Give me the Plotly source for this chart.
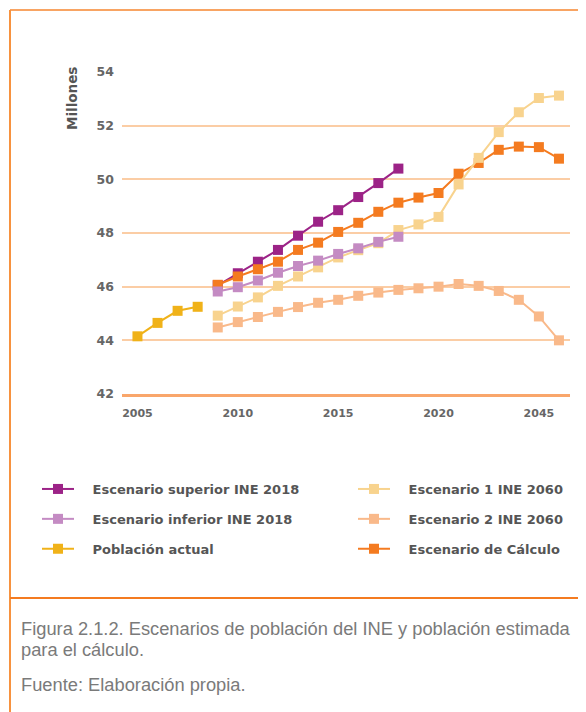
import plotly.graph_objects as go

# ---------------- data ----------------
years_actual = [2005, 2006, 2007, 2008]
pob_actual = [44.15, 44.65, 45.1, 45.25]

years_ine2018 = list(range(2009, 2019))
esc_superior = [46.05, 46.5, 46.93, 47.37, 47.9, 48.42, 48.85, 49.34, 49.86, 50.4]
esc_inferior = [45.82, 45.98, 46.23, 46.52, 46.77, 46.97, 47.22, 47.43, 47.67, 47.86]

years_2060 = list(range(2009, 2027))
esc1_2060 = [44.92, 45.26, 45.6, 46.03, 46.38, 46.72, 47.09, 47.36, 47.62, 48.11,
             48.32, 48.6, 49.81, 50.8, 51.76, 52.5, 53.03, 53.12]
esc2_2060 = [44.48, 44.68, 44.87, 45.06, 45.24, 45.4, 45.51, 45.66, 45.78, 45.88,
             45.94, 46.0, 46.1, 46.03, 45.84, 45.51, 44.89, 44.0]
esc_calculo = [46.07, 46.38, 46.65, 46.93, 47.37, 47.64, 48.04, 48.38, 48.79, 49.13,
               49.32, 49.49, 50.21, 50.61, 51.1, 51.22, 51.2, 50.77]

x_tickvals = [2005, 2010, 2015, 2020, 2025]
x_ticktext = ["2005", "2010", "2015", "2020", "2045"]
y_tickvals = [42, 44, 46, 48, 50, 52, 54]

names = {
    "sup": "Escenario superior INE 2018",
    "inf": "Escenario inferior INE 2018",
    "act": "Población actual",
    "e1": "Escenario 1 INE 2060",
    "e2": "Escenario 2 INE 2060",
    "calc": "Escenario de Cálculo",
}
colors = {
    "sup": "#9C2387",
    "inf": "#C48BC3",
    "act": "#F0B219",
    "e1": "#F8D38E",
    "e2": "#F9B98A",
    "calc": "#F47B20",
}

# ---------------- layout geometry ----------------
# page coordinates; the html body adds an 8px margin around the figure
OFF = 8
W, H = 586 - OFF, 712 - OFF
L, R, T, B = 122 - OFF, 570 - OFF, 72 - OFF, 394 - OFF


def px(x):
    return (x - OFF - L) / (R - L)


def py(y):
    return (B - (y - OFF)) / (B - T)


fig = go.Figure()
PAD = "\u00a0\u00a0\u00a0"


def add(key, xs, ys, legend, rank):
    fig.add_trace(go.Scatter(
        x=xs, y=ys, mode="lines+markers", name=PAD + names[key],
        line=dict(color=colors[key], width=2),
        marker=dict(symbol="square", size=10, color=colors[key]),
        legend=legend, legendgroup=key, legendrank=rank,
        hoverinfo="skip",
    ))


# draw order (bottom -> top)
add("sup", years_ine2018, esc_superior, "legend", 1)
add("calc", years_2060, esc_calculo, "legend2", 3)
add("e2", years_2060, esc2_2060, "legend2", 2)
add("e1", years_2060, esc1_2060, "legend2", 1)
add("inf", years_ine2018, esc_inferior, "legend", 2)
add("act", years_actual, pob_actual, "legend", 3)

BOLD = "DejaVu Sans, sans-serif"
legend_font = dict(family=BOLD, size=13, color="#555555", weight="bold")

fig.update_layout(
    width=W, height=H,
    margin=dict(l=L, r=W - R, t=T, b=H - B, autoexpand=False),
    paper_bgcolor="white", plot_bgcolor="white",
    showlegend=True,
    legend=dict(x=px(37), y=py(474), xanchor="left", yanchor="top",
                orientation="v", tracegroupgap=10, font=legend_font,
                bgcolor="rgba(0,0,0,0)", itemwidth=32),
    legend2=dict(x=px(353), y=py(474), xanchor="left", yanchor="top",
                 orientation="v", tracegroupgap=10, font=legend_font,
                 bgcolor="rgba(0,0,0,0)", itemwidth=32),
    xaxis=dict(range=[2004.23, 2026.55], tickvals=x_tickvals, ticktext=x_ticktext,
               showgrid=False, zeroline=False, showline=True,
               linecolor="#F9A66B", linewidth=3, ticks="",
               ticklabelstandoff=7,
               tickfont=dict(family=BOLD, size=11, color="#666666", weight="bold")),
    yaxis=dict(range=[42, 54], tickvals=y_tickvals, showgrid=True,
               gridcolor="#FBCDA5", gridwidth=1.5, zeroline=False, showline=False,
               ticks="", ticklabelstandoff=7,
               tickfont=dict(family=BOLD, size=12.5, color="#666666", weight="bold")),
    font=dict(family=BOLD),
)

# frame lines
fig.add_shape(type="line", xref="paper", yref="paper",
              x0=px(10), x1=px(600), y0=py(10), y1=py(10),
              line=dict(color="#F8A463", width=2))
fig.add_shape(type="line", xref="paper", yref="paper",
              x0=px(10), x1=px(10), y0=py(10), y1=py(720),
              line=dict(color="#F7923F", width=2))
fig.add_shape(type="line", xref="paper", yref="paper",
              x0=px(10), x1=px(600), y0=py(598), y1=py(598),
              line=dict(color="#F47B20", width=2))

# y axis title
fig.add_annotation(text="Millones", xref="paper", yref="paper",
                   x=px(72), y=py(99), textangle=-90, showarrow=False,
                   xanchor="center", yanchor="middle",
                   font=dict(family=BOLD, size=13.5, color="#555555", weight="bold"))

cap_font = dict(family="Liberation Sans, Arial, sans-serif", size=18.3, color="#7A7A7A")
for txt, yy in [("Figura 2.1.2. Escenarios de población del INE y población estimada", 628),
                ("para el cálculo.", 649),
                ("Fuente: Elaboración propia.", 684)]:
    fig.add_annotation(text=txt, xref="paper", yref="paper", x=px(19), y=py(yy),
                       xanchor="left", yanchor="middle", showarrow=False,
                       font=cap_font)

fig.write_html("out.html")
